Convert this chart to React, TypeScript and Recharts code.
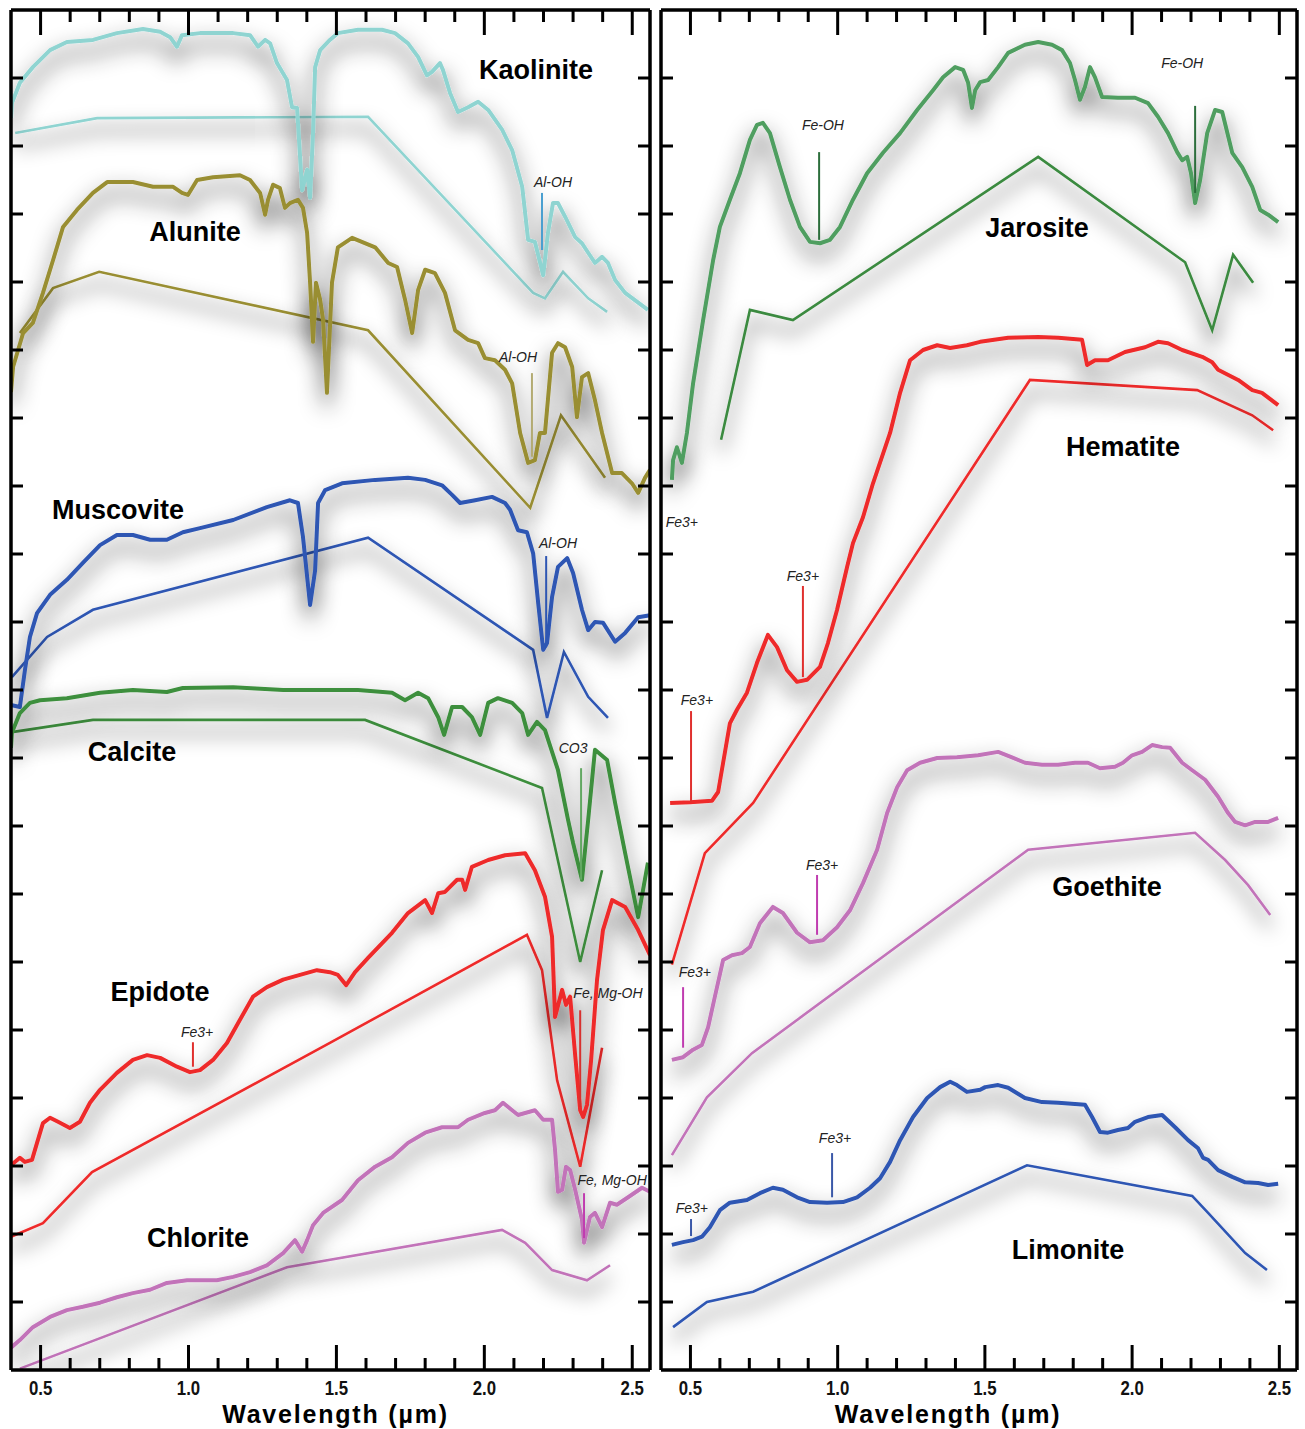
import React from 'react';
import { ComposedChart, Line, XAxis, YAxis, ReferenceLine, ReferenceDot, Label } from 'recharts';

type Pt = [number, number];

// Wavelength (µm) vs. relative reflectance, spectra stacked with vertical offsets.
// "lab" = full-resolution library spectrum, "bands" = same spectrum resampled to sensor bands.

// ---------- left panel ----------
const kaoliniteLab: Pt[] = [
  [0.4, 18.41], [0.403, 18.63], [0.43, 18.93], [0.474, 19.16], [0.532, 19.41], [0.589, 19.53], [0.677, 19.56],
  [0.758, 19.66], [0.846, 19.72], [0.904, 19.68], [0.938, 19.6], [0.961, 19.46], [0.978, 19.63], [1.039, 19.66],
  [1.151, 19.66], [1.208, 19.63], [1.235, 19.46], [1.259, 19.56], [1.276, 19.51], [1.299, 19.22], [1.333, 18.97],
  [1.35, 18.57], [1.367, 18.56], [1.384, 17.35], [1.401, 17.65], [1.411, 17.24], [1.421, 18.19], [1.428, 19.16],
  [1.445, 19.41], [1.478, 19.56], [1.505, 19.66], [1.573, 19.71], [1.654, 19.71], [1.698, 19.66], [1.742, 19.51],
  [1.776, 19.31], [1.806, 19.04], [1.823, 19.09], [1.85, 19.22], [1.86, 19.12], [1.884, 18.78], [1.911, 18.5],
  [1.945, 18.57], [1.979, 18.65], [2.013, 18.53], [2.06, 18.24], [2.094, 17.94], [2.128, 17.4], [2.148, 16.62],
  [2.171, 16.59], [2.199, 16.1], [2.215, 16.72], [2.232, 17.16], [2.249, 17.16], [2.273, 16.96], [2.307, 16.66],
  [2.33, 16.57], [2.351, 16.43], [2.374, 16.28], [2.398, 16.37], [2.418, 16.28], [2.442, 16.03], [2.476, 15.84],
  [2.553, 15.59],
];
const kaoliniteBands: Pt[] = [
  [0.414, 18.19], [0.691, 18.41], [1.607, 18.43], [2.165, 15.84], [2.205, 15.76], [2.266, 16.15], [2.351, 15.76], [2.415, 15.56],
];

const aluniteLab: Pt[] = [
  [0.4, 14.38], [0.407, 14.75], [0.441, 15.25], [0.474, 15.4], [0.508, 15.84], [0.542, 16.32], [0.576, 16.81],
  [0.623, 17.06], [0.677, 17.31], [0.725, 17.47], [0.812, 17.47], [0.88, 17.4], [0.948, 17.4], [0.978, 17.31],
  [0.998, 17.28], [1.029, 17.5], [1.083, 17.54], [1.174, 17.57], [1.208, 17.5], [1.242, 17.31], [1.259, 16.99],
  [1.269, 17.21], [1.286, 17.43], [1.309, 17.38], [1.326, 17.09], [1.343, 17.16], [1.37, 17.21], [1.387, 17.09],
  [1.401, 16.72], [1.411, 15.99], [1.421, 15.12], [1.431, 15.99], [1.445, 15.74], [1.455, 15.44], [1.468, 14.37],
  [1.485, 15.99], [1.505, 16.51], [1.553, 16.65], [1.631, 16.51], [1.675, 16.28], [1.705, 16.22], [1.732, 15.74],
  [1.756, 15.25], [1.776, 15.88], [1.8, 16.18], [1.833, 16.13], [1.867, 15.84], [1.901, 15.29], [1.945, 15.15],
  [1.979, 15.1], [2.002, 14.88], [2.036, 14.85], [2.07, 14.71], [2.094, 14.51], [2.121, 13.78], [2.148, 13.34],
  [2.171, 13.38], [2.188, 13.78], [2.205, 13.78], [2.229, 14.96], [2.249, 15.1], [2.273, 15.04], [2.297, 14.75],
  [2.313, 14.01], [2.33, 14.6], [2.351, 14.66], [2.374, 14.26], [2.398, 13.78], [2.432, 13.19], [2.465, 13.19],
  [2.499, 13.04], [2.52, 12.9], [2.543, 13.12], [2.56, 13.24],
];
const aluniteBands: Pt[] = [
  [0.43, 15.25], [0.542, 15.91], [0.698, 16.15], [1.607, 15.29], [2.155, 12.68], [2.259, 14.04], [2.408, 13.12],
];

const muscoviteLab: Pt[] = [
  [0.4, 9.78], [0.43, 9.75], [0.447, 10.29], [0.464, 10.78], [0.488, 11.13], [0.532, 11.4], [0.589, 11.62],
  [0.643, 11.87], [0.701, 12.13], [0.758, 12.28], [0.812, 12.28], [0.87, 12.21], [0.927, 12.21], [0.981, 12.32],
  [1.039, 12.38], [1.151, 12.5], [1.265, 12.69], [1.343, 12.79], [1.37, 12.75], [1.387, 12.25], [1.411, 11.25],
  [1.428, 11.76], [1.438, 12.75], [1.462, 12.94], [1.519, 13.04], [1.631, 13.09], [1.742, 13.12], [1.8, 13.09],
  [1.857, 13.01], [1.891, 12.87], [1.918, 12.75], [1.969, 12.79], [2.026, 12.84], [2.07, 12.75], [2.087, 12.65],
  [2.114, 12.35], [2.144, 12.32], [2.165, 12.01], [2.182, 11.28], [2.199, 10.59], [2.212, 10.69], [2.229, 11.37],
  [2.249, 11.81], [2.28, 11.94], [2.3, 11.72], [2.33, 11.18], [2.351, 10.88], [2.374, 11.0], [2.401, 10.99],
  [2.442, 10.71], [2.476, 10.84], [2.52, 11.07], [2.56, 11.1],
];
const muscoviteBands: Pt[] = [
  [0.403, 10.19], [0.522, 10.78], [0.677, 11.18], [1.607, 12.24], [2.165, 10.59], [2.212, 9.59], [2.269, 10.56], [2.351, 9.9], [2.418, 9.59],
];

const calciteLab: Pt[] = [
  [0.4, 9.15], [0.403, 9.37], [0.43, 9.66], [0.464, 9.81], [0.498, 9.85], [0.589, 9.88], [0.701, 9.96],
  [0.812, 10.0], [0.927, 9.97], [0.981, 10.03], [1.151, 10.04], [1.32, 10.0], [1.478, 10.0], [1.573, 10.0],
  [1.688, 9.96], [1.732, 9.85], [1.776, 9.96], [1.81, 9.88], [1.844, 9.6], [1.864, 9.34], [1.891, 9.75],
  [1.925, 9.75], [1.958, 9.6], [1.986, 9.34], [2.013, 9.81], [2.046, 9.88], [2.094, 9.81], [2.128, 9.66],
  [2.148, 9.34], [2.178, 9.53], [2.205, 9.41], [2.249, 8.82], [2.283, 8.09], [2.3, 7.75], [2.33, 7.21],
  [2.351, 8.09], [2.374, 9.12], [2.415, 8.97], [2.442, 8.34], [2.476, 7.6], [2.52, 6.66], [2.553, 7.46],
];
const calciteBands: Pt[] = [
  [0.403, 9.38], [0.677, 9.56], [1.597, 9.56], [2.195, 8.56], [2.324, 6.0], [2.398, 7.35],
];

const epidoteLab: Pt[] = [
  [0.4, 3.01], [0.43, 3.12], [0.447, 3.06], [0.471, 3.09], [0.488, 3.34], [0.508, 3.63], [0.532, 3.71],
  [0.559, 3.65], [0.599, 3.56], [0.633, 3.65], [0.667, 3.93], [0.701, 4.12], [0.758, 4.37], [0.812, 4.56],
  [0.86, 4.63], [0.904, 4.59], [0.961, 4.46], [1.005, 4.38], [1.039, 4.41], [1.083, 4.56], [1.13, 4.81],
  [1.174, 5.15], [1.218, 5.49], [1.265, 5.63], [1.32, 5.74], [1.377, 5.81], [1.434, 5.88], [1.478, 5.85],
  [1.505, 5.81], [1.533, 5.66], [1.563, 5.85], [1.607, 6.06], [1.688, 6.43], [1.742, 6.72], [1.8, 6.91],
  [1.823, 6.72], [1.844, 7.01], [1.867, 7.03], [1.908, 7.21], [1.925, 7.21], [1.935, 7.06], [1.958, 7.4],
  [2.013, 7.5], [2.07, 7.57], [2.138, 7.6], [2.171, 7.35], [2.205, 6.96], [2.229, 6.37], [2.239, 5.19],
  [2.263, 5.59], [2.276, 5.37], [2.29, 5.49], [2.307, 4.63], [2.324, 3.82], [2.334, 3.72], [2.347, 3.9],
  [2.361, 4.56], [2.381, 5.74], [2.401, 6.47], [2.432, 6.91], [2.476, 6.81], [2.52, 6.47], [2.56, 6.1],
];
const epidoteBands: Pt[] = [
  [0.4, 1.96], [0.508, 2.16], [0.674, 2.91], [1.478, 4.81], [2.144, 6.4], [2.195, 5.88], [2.246, 4.26], [2.324, 2.99], [2.398, 4.74],
];

const chloriteLab: Pt[] = [
  [0.4, 0.32], [0.403, 0.34], [0.43, 0.44], [0.474, 0.63], [0.532, 0.78], [0.589, 0.88], [0.643, 0.93],
  [0.701, 0.99], [0.758, 1.07], [0.812, 1.13], [0.87, 1.18], [0.927, 1.28], [0.995, 1.32], [1.096, 1.32],
  [1.151, 1.37], [1.208, 1.44], [1.265, 1.54], [1.32, 1.72], [1.36, 1.91], [1.384, 1.74], [1.401, 1.91],
  [1.421, 2.13], [1.455, 2.31], [1.519, 2.5], [1.573, 2.79], [1.631, 2.99], [1.688, 3.13], [1.742, 3.34],
  [1.8, 3.49], [1.857, 3.57], [1.911, 3.57], [1.945, 3.68], [2.002, 3.78], [2.036, 3.82], [2.063, 3.93],
  [2.094, 3.82], [2.114, 3.75], [2.171, 3.82], [2.199, 3.68], [2.229, 3.68], [2.239, 3.24], [2.249, 2.62],
  [2.263, 2.65], [2.276, 2.99], [2.29, 2.94], [2.307, 2.65], [2.33, 2.21], [2.337, 1.87], [2.357, 2.25],
  [2.374, 2.31], [2.398, 2.1], [2.425, 2.46], [2.448, 2.43], [2.486, 2.54], [2.533, 2.68], [2.56, 2.62],
];
const chloriteBands: Pt[] = [
  [0.43, 0.02], [1.333, 1.51], [2.06, 2.06], [2.138, 1.87], [2.229, 1.47], [2.347, 1.32], [2.425, 1.54],
];

// ---------- right panel ----------
const jarositeLab: Pt[] = [
  [0.437, 13.09], [0.441, 13.38], [0.454, 13.57], [0.471, 13.34], [0.488, 13.78], [0.509, 14.51], [0.543, 15.44],
  [0.577, 16.32], [0.6, 16.81], [0.634, 17.21], [0.668, 17.6], [0.702, 18.09], [0.726, 18.31], [0.746, 18.34],
  [0.77, 18.19], [0.804, 17.69], [0.838, 17.21], [0.872, 16.81], [0.906, 16.59], [0.94, 16.57], [0.974, 16.62],
  [1.008, 16.81], [1.052, 17.21], [1.1, 17.6], [1.154, 17.9], [1.212, 18.19], [1.27, 18.53], [1.324, 18.82],
  [1.358, 19.01], [1.399, 19.16], [1.426, 19.12], [1.443, 18.93], [1.456, 18.56], [1.467, 18.82], [1.484, 18.94],
  [1.511, 18.97], [1.545, 19.16], [1.579, 19.37], [1.636, 19.49], [1.681, 19.53], [1.728, 19.49], [1.762, 19.41],
  [1.789, 19.22], [1.806, 18.97], [1.823, 18.68], [1.84, 18.87], [1.857, 19.16], [1.874, 19.01], [1.898, 18.72],
  [1.952, 18.71], [2.01, 18.71], [2.054, 18.63], [2.088, 18.43], [2.122, 18.19], [2.153, 17.91], [2.17, 17.79],
  [2.187, 17.84], [2.2, 17.6], [2.214, 17.16], [2.231, 17.5], [2.255, 18.19], [2.282, 18.53], [2.306, 18.5],
  [2.34, 17.9], [2.374, 17.69], [2.408, 17.4], [2.435, 17.06], [2.462, 16.99], [2.496, 16.88],
];
const jarositeBands: Pt[] = [
  [0.604, 13.68], [0.702, 15.59], [0.848, 15.44], [1.681, 17.84], [2.18, 16.29], [2.272, 15.29], [2.343, 16.4], [2.411, 15.99],
];

const hematiteLab: Pt[] = [
  [0.431, 8.34], [0.499, 8.35], [0.573, 8.37], [0.594, 8.5], [0.611, 8.93], [0.634, 9.51], [0.658, 9.71],
  [0.692, 9.96], [0.726, 10.4], [0.763, 10.81], [0.794, 10.63], [0.828, 10.29], [0.862, 10.12], [0.896, 10.15],
  [0.94, 10.34], [0.967, 10.69], [0.998, 11.18], [1.032, 11.81], [1.052, 12.16], [1.086, 12.54], [1.12, 13.04],
  [1.178, 13.78], [1.212, 14.37], [1.246, 14.85], [1.29, 15.0], [1.338, 15.07], [1.382, 15.03], [1.439, 15.07],
  [1.484, 15.12], [1.579, 15.18], [1.681, 15.19], [1.749, 15.18], [1.83, 15.15], [1.847, 14.78], [1.874, 14.85],
  [1.918, 14.85], [1.976, 14.97], [2.044, 15.04], [2.088, 15.12], [2.122, 15.1], [2.17, 15.0], [2.238, 14.9],
  [2.272, 14.82], [2.292, 14.71], [2.36, 14.56], [2.408, 14.41], [2.441, 14.37], [2.496, 14.19],
];
const hematiteBands: Pt[] = [
  [0.437, 5.96], [0.549, 7.6], [0.713, 8.34], [1.653, 14.56], [2.221, 14.41], [2.408, 14.04], [2.479, 13.82],
];

const goethiteLab: Pt[] = [
  [0.437, 4.56], [0.475, 4.6], [0.509, 4.71], [0.539, 4.78], [0.56, 5.04], [0.583, 5.49], [0.611, 6.03],
  [0.641, 6.1], [0.675, 6.13], [0.702, 6.22], [0.736, 6.57], [0.78, 6.81], [0.814, 6.72], [0.862, 6.43],
  [0.906, 6.29], [0.95, 6.32], [0.998, 6.51], [1.042, 6.76], [1.086, 7.16], [1.134, 7.65], [1.168, 8.19],
  [1.202, 8.57], [1.236, 8.82], [1.28, 8.93], [1.338, 9.0], [1.405, 9.01], [1.477, 9.04], [1.545, 9.09],
  [1.592, 9.01], [1.636, 8.93], [1.694, 8.9], [1.749, 8.9], [1.806, 8.93], [1.85, 8.93], [1.891, 8.85],
  [1.942, 8.87], [1.969, 8.93], [2.0, 9.04], [2.034, 9.09], [2.068, 9.19], [2.102, 9.16], [2.129, 9.15],
  [2.17, 8.93], [2.204, 8.82], [2.248, 8.68], [2.292, 8.43], [2.326, 8.19], [2.35, 8.06], [2.384, 8.01],
  [2.418, 8.06], [2.462, 8.06], [2.496, 8.12],
];
const goethiteBands: Pt[] = [
  [0.437, 3.16], [0.556, 4.01], [0.709, 4.66], [1.647, 7.65], [2.214, 7.9], [2.316, 7.5], [2.394, 7.13], [2.469, 6.69],
];

const limoniteLab: Pt[] = [
  [0.437, 1.84], [0.475, 1.88], [0.509, 1.91], [0.539, 1.96], [0.566, 2.1], [0.6, 2.35], [0.634, 2.46],
  [0.692, 2.5], [0.736, 2.6], [0.78, 2.68], [0.814, 2.65], [0.862, 2.54], [0.906, 2.47], [0.964, 2.46],
  [1.018, 2.47], [1.066, 2.54], [1.11, 2.68], [1.144, 2.82], [1.178, 3.06], [1.212, 3.38], [1.256, 3.72],
  [1.304, 4.0], [1.348, 4.16], [1.382, 4.24], [1.405, 4.19], [1.439, 4.09], [1.484, 4.12], [1.501, 4.16],
  [1.545, 4.19], [1.579, 4.15], [1.636, 4.0], [1.694, 3.94], [1.749, 3.93], [1.84, 3.9], [1.864, 3.72],
  [1.891, 3.5], [1.918, 3.49], [1.952, 3.53], [1.986, 3.56], [2.01, 3.65], [2.054, 3.72], [2.102, 3.75],
  [2.146, 3.57], [2.19, 3.38], [2.224, 3.26], [2.241, 3.12], [2.258, 3.09], [2.292, 2.94], [2.34, 2.84],
  [2.384, 2.76], [2.428, 2.75], [2.462, 2.72], [2.496, 2.74],
];
const limoniteBands: Pt[] = [
  [0.441, 0.63], [0.556, 1.0], [0.713, 1.15], [1.643, 3.01], [2.204, 2.56], [2.258, 2.31], [2.384, 1.72], [2.458, 1.47],
];

// ---------- axes ----------
const X_DOMAIN: [number, number] = [0.4, 2.56];
const Y_DOMAIN: [number, number] = [0, 20];
const X_TICKS = [0.5, 0.6, 0.7, 0.8, 0.9, 1.0, 1.1, 1.2, 1.3, 1.4, 1.5, 1.6, 1.7, 1.8, 1.9, 2.0, 2.1, 2.2, 2.3, 2.4, 2.5];
const Y_TICKS = [1, 2, 3, 4, 5, 6, 7, 8, 9, 10, 11, 12, 13, 14, 15, 16, 17, 18, 19];

interface Series { id: string; lab: Pt[]; bands: Pt[]; color: string; bandColor: string }
interface Tag { text: string; w: number; r: number }
interface Mark { w: number; from: number; to: number; color: string }

const leftSeries: Series[] = [
  { id: 'kaolinite', lab: kaoliniteLab, bands: kaoliniteBands, color: '#8fd4d1', bandColor: '#8fd4d1' },
  { id: 'alunite', lab: aluniteLab, bands: aluniteBands, color: '#998e33', bandColor: '#998e33' },
  { id: 'muscovite', lab: muscoviteLab, bands: muscoviteBands, color: '#2e56b3', bandColor: '#2e56b3' },
  { id: 'calcite', lab: calciteLab, bands: calciteBands, color: '#3e8f3e', bandColor: '#3e8f3e' },
  { id: 'epidote', lab: epidoteLab, bands: epidoteBands, color: '#ee2b2b', bandColor: '#ee2b2b' },
  { id: 'chlorite', lab: chloriteLab, bands: chloriteBands, color: '#c273b9', bandColor: '#c273b9' },
];
const rightSeries: Series[] = [
  { id: 'jarosite', lab: jarositeLab, bands: jarositeBands, color: '#4f9e60', bandColor: '#3b8a3f' },
  { id: 'hematite', lab: hematiteLab, bands: hematiteBands, color: '#ee2b2b', bandColor: '#ee2b2b' },
  { id: 'goethite', lab: goethiteLab, bands: goethiteBands, color: '#c273b9', bandColor: '#c273b9' },
  { id: 'limonite', lab: limoniteLab, bands: limoniteBands, color: '#2e56b3', bandColor: '#2e56b3' },
];

const leftNames: Tag[] = [
  { text: 'Kaolinite', w: 2.175, r: 19.12 },
  { text: 'Alunite', w: 1.022, r: 16.74 },
  { text: 'Muscovite', w: 0.762, r: 12.65 },
  { text: 'Calcite', w: 0.809, r: 9.09 },
  { text: 'Epidote', w: 0.904, r: 5.56 },
  { text: 'Chlorite', w: 1.032, r: 1.94 },
];
const rightNames: Tag[] = [
  { text: 'Jarosite', w: 1.677, r: 16.79 },
  { text: 'Hematite', w: 1.969, r: 13.57 },
  { text: 'Goethite', w: 1.915, r: 7.1 },
  { text: 'Limonite', w: 1.782, r: 1.76 },
];

const leftNotes: Tag[] = [
  { text: 'Al-OH', w: 2.232, r: 17.47 },
  { text: 'Al-OH', w: 2.114, r: 14.9 },
  { text: 'Al-OH', w: 2.249, r: 12.16 },
  { text: 'CO3', w: 2.3, r: 9.15 },
  { text: 'Fe3+', w: 1.029, r: 4.97 },
  { text: 'Fe, Mg-OH', w: 2.418, r: 5.54 },
  { text: 'Fe, Mg-OH', w: 2.432, r: 2.79 },
];
const rightNotes: Tag[] = [
  { text: 'Fe-OH', w: 0.95, r: 18.31 },
  { text: 'Fe-OH', w: 2.17, r: 19.22 },
  { text: 'Fe3+', w: 0.471, r: 12.47 },
  { text: 'Fe3+', w: 0.882, r: 11.68 },
  { text: 'Fe3+', w: 0.522, r: 9.85 },
  { text: 'Fe3+', w: 0.947, r: 7.43 },
  { text: 'Fe3+', w: 0.515, r: 5.85 },
  { text: 'Fe3+', w: 0.991, r: 3.41 },
  { text: 'Fe3+', w: 0.505, r: 2.38 },
];

const leftMarks: Mark[] = [
  { w: 2.195, from: 16.47, to: 17.31, color: '#4a9fd0' },
  { w: 2.161, from: 13.43, to: 14.66, color: '#b3ab73' },
  { w: 2.209, from: 10.63, to: 11.97, color: '#2e56b3' },
  { w: 2.327, from: 7.21, to: 8.85, color: '#62a862' },
  { w: 1.015, from: 4.46, to: 4.82, color: '#e0302e' },
  { w: 2.324, from: 3.87, to: 5.29, color: '#d8302e' },
  { w: 2.337, from: 1.94, to: 2.6, color: '#c03cb0' },
];
const rightMarks: Mark[] = [
  { w: 0.937, from: 16.62, to: 17.91, color: '#2c6e3c' },
  { w: 2.214, from: 17.31, to: 18.59, color: '#2c6e3c' },
  { w: 0.882, from: 10.19, to: 11.53, color: '#e0302e' },
  { w: 0.502, from: 8.35, to: 9.69, color: '#e0302e' },
  { w: 0.93, from: 6.4, to: 7.28, color: '#c03cb0' },
  { w: 0.475, from: 4.74, to: 5.63, color: '#c03cb0' },
  { w: 0.981, from: 2.54, to: 3.19, color: '#3a58a8' },
  { w: 0.502, from: 1.97, to: 2.22, color: '#3a58a8' },
];

const toRows = (pts: Pt[]) => pts.map(([w, r]) => ({ w, r }));

// ---------- drawing helpers ----------
const SANS = "'Liberation Sans', Arial, Helvetica, sans-serif";
const FRAME = '#000';
const isMajor = (v: number) => Math.abs(v * 2 - Math.round(v * 2)) < 1e-6;

function BottomTick(props: any) {
  const { x, y, payload } = props;
  const major = isMajor(payload.value);
  return (
    <g>
      <line x1={x} y1={y} x2={x} y2={y - (major ? 25 : 12)} stroke={FRAME} strokeWidth={3} />
      {major && (
        // condensed numerals: squeeze the glyphs horizontally around the tick position
        <text
          transform={`translate(${x},${y + 25}) scale(0.8,1)`} textAnchor="middle"
          fontFamily={SANS} fontWeight={700} fontSize={21} fill="#111"
        >
          {payload.value.toFixed(1)}
        </text>
      )}
    </g>
  );
}
function TopTick(props: any) {
  const { x, y, payload } = props;
  const major = isMajor(payload.value);
  return <line x1={x} y1={y} x2={x} y2={y + (major ? 25 : 12)} stroke={FRAME} strokeWidth={3} />;
}
function LeftTick(props: any) {
  const { x, y } = props;
  return <line x1={x} y1={y} x2={x + 12} y2={y} stroke={FRAME} strokeWidth={3} />;
}
function RightTick(props: any) {
  const { x, y } = props;
  return <line x1={x} y1={y} x2={x - 12} y2={y} stroke={FRAME} strokeWidth={3} />;
}

const nameShape = (text: string) => (p: any) => (
  <text x={p.cx} y={p.cy} textAnchor="middle" dominantBaseline="central" fontFamily={SANS} fontWeight={700} fontSize={27} fill="#000">
    {text}
  </text>
);
const noteShape = (text: string) => (p: any) => (
  <text x={p.cx} y={p.cy} textAnchor="middle" dominantBaseline="central" fontFamily={SANS} fontStyle="italic" fontSize={14} fill="#222">
    {text}
  </text>
);

interface PanelProps {
  width: number;
  plotWidth: number;
  series: Series[];
  names: Tag[];
  notes: Tag[];
  marks: Mark[];
  titleShift: number;
}

function Panel({ width, plotWidth, series, names, notes, marks, titleShift }: PanelProps) {
  // each axis takes 1px of the margin; plot area runs x 11..11+plotWidth, y 10..1370
  const left = 10;
  const right = width - 11 - plotWidth - 1;
  const axisLine = { stroke: FRAME, strokeWidth: 3.5 };
  return (
    <ComposedChart width={width} height={1429} margin={{ top: 9, right, bottom: 58, left }}>
      <XAxis
        xAxisId={0} dataKey="w" type="number" domain={X_DOMAIN} allowDataOverflow ticks={X_TICKS} interval={0}
        height={1} tickSize={0} tickMargin={0} tickLine={false} axisLine={axisLine} tick={BottomTick}
      >
        <Label
          value="Wavelength (µm)" position="bottom" offset={34} dx={titleShift}
          style={{ fontFamily: SANS, fontWeight: 700, fontSize: 25, fill: '#000', letterSpacing: 1.8 }}
        />
      </XAxis>
      <XAxis
        xAxisId="top" orientation="top" dataKey="w" type="number" domain={X_DOMAIN} allowDataOverflow ticks={X_TICKS}
        interval={0} height={1} tickSize={0} tickMargin={0} tickLine={false} axisLine={axisLine} tick={TopTick}
      />
      <YAxis
        yAxisId={0} type="number" domain={Y_DOMAIN} allowDataOverflow ticks={Y_TICKS} interval={0}
        width={1} tickSize={0} tickMargin={0} tickLine={false} axisLine={axisLine} tick={LeftTick}
      />
      <YAxis
        yAxisId="right" orientation="right" type="number" domain={Y_DOMAIN} allowDataOverflow ticks={Y_TICKS}
        interval={0} width={1} tickSize={0} tickMargin={0} tickLine={false} axisLine={axisLine} tick={RightTick}
      />

      {series.map((s) => (
        <Line
          key={`${s.id}-bands`} className="haze-thin" data={toRows(s.bands)} dataKey="r" type="linear"
          stroke={s.bandColor} strokeWidth={2.6} dot={false} activeDot={false} isAnimationActive={false}
        />
      ))}
      {series.map((s) => (
        <Line
          key={`${s.id}-lab`} className="haze" data={toRows(s.lab)} dataKey="r" type="linear"
          stroke={s.color} strokeWidth={4} strokeLinejoin="round" dot={false} activeDot={false} isAnimationActive={false}
        />
      ))}

      {marks.map((m, i) => (
        <ReferenceLine
          key={`mark-${i}`} segment={[{ x: m.w, y: m.from }, { x: m.w, y: m.to }]}
          stroke={m.color} strokeWidth={2}
        />
      ))}
      {notes.map((n, i) => (
        <ReferenceDot key={`note-${i}`} x={n.w} y={n.r} r={0} shape={noteShape(n.text)} />
      ))}
      {names.map((n) => (
        <ReferenceDot key={n.text} x={n.w} y={n.r} r={0} shape={nameShape(n.text)} />
      ))}
    </ComposedChart>
  );
}

export default function App() {
  return (
    <div style={{ position: 'absolute', left: 0, top: 0, width: 1305, height: 1429, background: '#fff', overflow: 'hidden' }}>
      <style>{`
        .haze .recharts-line-curve { filter: url(#spectrum-haze); }
        .haze-thin .recharts-line-curve { filter: url(#spectrum-haze-thin); }
      `}</style>
      <svg width={0} height={0} style={{ position: 'absolute' }}>
        <defs>
          <filter id="spectrum-haze" filterUnits="userSpaceOnUse" x={-100} y={-100} width={900} height={1700}>
            <feGaussianBlur in="SourceAlpha" stdDeviation={11} result="blur" />
            <feOffset in="blur" dx={0} dy={12} result="off" />
            <feFlood floodColor="#000" floodOpacity={0.95} result="tint" />
            <feComposite in="tint" in2="off" operator="in" result="shadow" />
            <feMerge>
              <feMergeNode in="shadow" />
              <feMergeNode in="SourceGraphic" />
            </feMerge>
          </filter>
          <filter id="spectrum-haze-thin" filterUnits="userSpaceOnUse" x={-100} y={-100} width={900} height={1700}>
            <feGaussianBlur in="SourceAlpha" stdDeviation={10} result="blur" />
            <feOffset in="blur" dx={0} dy={12} result="off" />
            <feFlood floodColor="#000" floodOpacity={1} result="tint" />
            <feComposite in="tint" in2="off" operator="in" result="shadow" />
            <feMerge>
              <feMergeNode in="shadow" />
              <feMergeNode in="SourceGraphic" />
            </feMerge>
          </filter>
        </defs>
      </svg>
      <div style={{ position: 'absolute', left: 0, top: 0 }}>
        <Panel width={660} plotWidth={639} series={leftSeries} names={leftNames} notes={leftNotes} marks={leftMarks} titleShift={5} />
      </div>
      <div style={{ position: 'absolute', left: 650, top: 0 }}>
        <Panel width={655} plotWidth={636} series={rightSeries} names={rightNames} notes={rightNotes} marks={rightMarks} titleShift={-31} />
      </div>
    </div>
  );
}
